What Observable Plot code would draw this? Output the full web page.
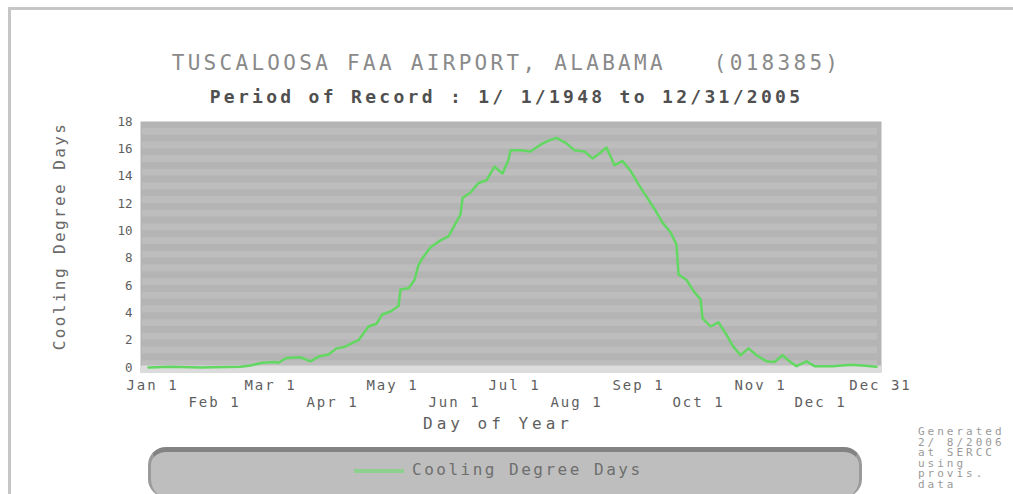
<!DOCTYPE html>
<html>
<head>
<meta charset="utf-8">
<script src="https://cdn.jsdelivr.net/npm/d3@7"></script>
<script src="https://cdn.jsdelivr.net/npm/@observablehq/plot@0.6"></script>
<style>
  html, body { margin: 0; padding: 0; background: #fff; }
  #page { position: relative; width: 1013px; height: 494px; overflow: hidden; background: #fff;
          font-family: "DejaVu Sans Mono", monospace; }
  .abs { position: absolute; white-space: pre; }
  #frameTop { left: 8px; top: 7px; width: 1005px; height: 3px; background: #c6c6c6; }
  #frameLeft { left: 8px; top: 7px; width: 3px; height: 487px; background: #c6c6c6; }
  #title { left: 0; top: 51px; width: 1013px; text-align: center; font-size: 21px; line-height: 24px;
           letter-spacing: 3.3px; color: #8a8a8a; }
  #subtitle { left: 0; top: 86px; width: 1013px; text-align: center; font-size: 18px; line-height: 22px;
              letter-spacing: 3.3px; color: #505050; font-weight: bold; }
  #ylab { left: -90px; top: 225px; width: 300px; text-align: center; font-size: 16px; line-height: 22px;
          letter-spacing: 2.4px; color: #6a6a6a; transform: rotate(-90deg); }
  #xlab { left: 348px; top: 413px; width: 300px; text-align: center; font-size: 16px; line-height: 22px;
          letter-spacing: 4px; color: #5e5e5e; }
  #chart { left: 0; top: 110px; }
  #legend { left: 148px; top: 447px; width: 714px; height: 50px; box-sizing: border-box;
            background: #bebebe; border-top: 5px solid #838383; border-left: 3px solid #9a9a9a;
            border-right: 3px solid #9a9a9a; border-radius: 18px; }
  #swatch { left: 203px; top: 17px; width: 50px; height: 4px; background: #8fd08f; }
  #legtext { left: 261px; top: 8px; font-size: 16px; line-height: 20px; letter-spacing: 2.5px; color: #6e6e6e; }
  #credit { left: 918px; top: 427px; font-size: 11px; line-height: 10.5px; letter-spacing: 3px; color: #9a9a9a; }
</style>
</head>
<body>
<div id="page">
  <div class="abs" id="frameTop"></div>
  <div class="abs" id="frameLeft"></div>
  <div class="abs" id="title">TUSCALOOSA FAA AIRPORT, ALABAMA   (018385)</div>
  <div class="abs" id="subtitle">Period of Record : 1/ 1/1948 to 12/31/2005</div>
  <div class="abs" id="ylab">Cooling Degree Days</div>
  <div class="abs" id="chart"></div>
  <div class="abs" id="xlab">Day of Year</div>
  <div class="abs" id="legend">
    <div class="abs" id="swatch"></div>
    <div class="abs" id="legtext">Cooling Degree Days</div>
  </div>
  <div class="abs" id="credit">Generated
2/ 8/2006
at SERCC
using
provis.
data</div>
</div>
<script>
// Daily mean cooling degree days (day of year, value)
const days = [1, 12, 27, 47, 52, 58, 64, 66, 70, 77, 82, 86, 91, 95, 99, 103, 106, 108, 111, 115,
  118, 122, 126, 127, 131, 134, 136, 138, 142, 147, 151, 154, 157, 158, 162, 166, 170, 174, 178, 181,
  182, 187, 192, 197, 201, 205, 210, 214, 219, 223, 226, 230, 234, 238, 242, 246, 250, 254, 258, 262,
  265, 266, 270, 274, 277, 278, 282, 286, 290, 293, 297, 301, 305, 310, 314, 318, 322, 325, 330, 334,
  343, 352, 358, 365];
const cdd = [0, 0.05, 0, 0.05, 0.15, 0.35, 0.4, 0.35, 0.7, 0.75, 0.45, 0.8, 0.95, 1.4, 1.5, 1.8, 2.0, 2.4, 3.0, 3.2,
  3.9, 4.1, 4.5, 5.7, 5.8, 6.4, 7.5, 8.0, 8.8, 9.3, 9.6, 10.4, 11.2, 12.4, 12.8, 13.5, 13.7, 14.7, 14.2, 15.2,
  15.9, 15.9, 15.8, 16.3, 16.6, 16.8, 16.4, 15.9, 15.8, 15.3, 15.6, 16.1, 14.8, 15.1, 14.4, 13.4, 12.5, 11.6, 10.6, 9.9,
  9.0, 6.8, 6.4, 5.5, 5.0, 3.6, 3.0, 3.3, 2.4, 1.6, 0.9, 1.4, 0.9, 0.45, 0.4, 0.9, 0.4, 0.1, 0.45, 0.1,
  0.1, 0.2, 0.15, 0.05];

const tickDays = [1, 32, 60, 91, 121, 152, 182, 213, 244, 274, 305, 335, 365];
const tickLabels = ["Jan 1", "Feb 1", "Mar 1", "Apr 1", "May 1", "Jun 1", "Jul 1",
  "Aug 1", "Sep 1", "Oct 1", "Nov 1", "Dec 1", "Dec 31"];
const yTicks = [0, 2, 4, 6, 8, 10, 12, 14, 16, 18];
const gridLevels = [0, 1, 2, 3, 4, 5, 6, 7, 8, 9, 10, 11, 12, 13, 14, 15, 16, 17];

const series = days.map((d, i) => ({day: d, value: cdd[i]}));
const labelOf = d => tickLabels[tickDays.indexOf(d)];

const svg = Plot.plot({
  width: 1013,
  height: 330,
  marginLeft: 140,
  marginRight: 132,
  marginTop: 11,
  marginBottom: 68,
  x: {domain: [1, 365], insetLeft: 8, insetRight: 5},
  y: {domain: [0, 18], insetBottom: 5},
  style: {fontFamily: '"DejaVu Sans Mono", monospace', color: "#5e5e5e", background: "transparent", overflow: "visible"},
  marks: [
    Plot.frame({fill: "#b4b4b4", stroke: "none"}),
    Plot.rectY(gridLevels, {y1: d => d, y2: d => d + 0.5, fill: "#bdbdbd", insetLeft: 2, insetRight: 4}),
    Plot.ruleY([0], {stroke: "#dcdcdc", strokeWidth: 7, dy: 1.5}),
    Plot.line(series, {x: "day", y: "value", stroke: "#62d862", strokeWidth: 2.5}),
    Plot.axisY({ticks: yTicks, tickSize: 0, tickPadding: 8, fontSize: 12.5, label: null}),
    Plot.axisX({ticks: tickDays.filter((d, i) => i % 2 === 0), tickFormat: labelOf, tickSize: 0,
      tickPadding: 8, fontSize: 14, label: null, dx: 4}),
    Plot.axisX({ticks: tickDays.filter((d, i) => i % 2 === 1), tickFormat: labelOf, tickSize: 0,
      tickPadding: 8, fontSize: 14, label: null, dx: 4, dy: 17})
  ]
});
d3.select(svg).selectAll('g[aria-label="x-axis tick label"]').attr("letter-spacing", "2px");
document.getElementById("chart").appendChild(svg);
</script>
</body>
</html>
